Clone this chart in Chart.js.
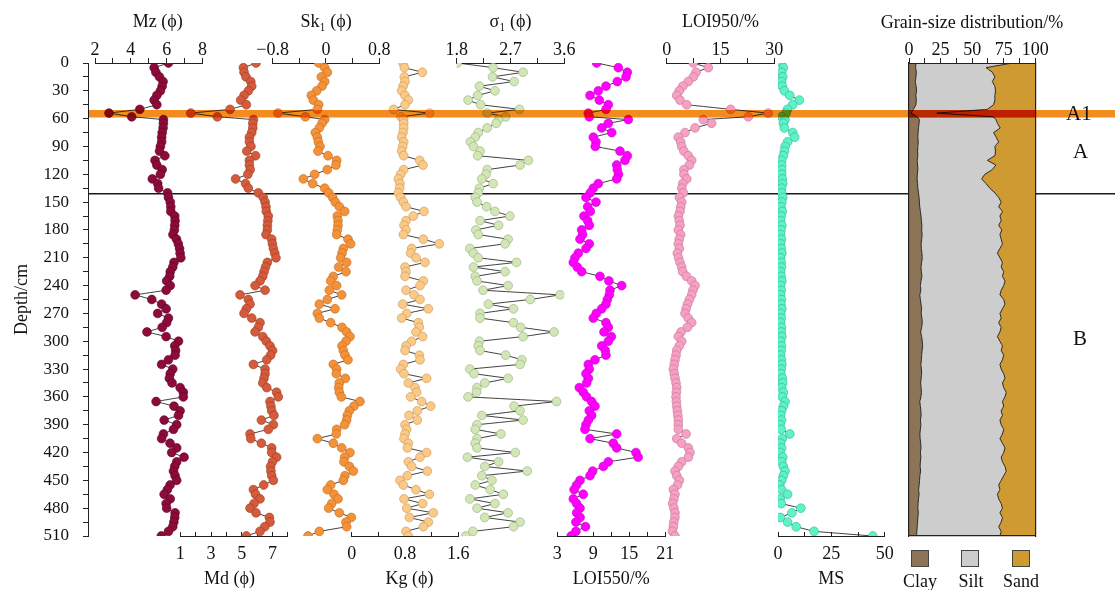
<!DOCTYPE html>
<html><head><meta charset="utf-8">
<script src="https://cdn.jsdelivr.net/npm/chart.js@4.4.1/dist/chart.umd.min.js"></script>
<style>
html,body{margin:0;padding:0;background:#fff;}
#wrap{position:relative;width:1115px;height:590px;overflow:hidden;font-family:'Liberation Serif','DejaVu Serif',serif;color:#111;}
#wrap canvas{position:absolute;left:0;top:0;}
.lab{position:absolute;font-size:21px;line-height:21px;transform:translateY(-50%);}
.ttl{position:absolute;font-size:18px;line-height:21px;white-space:nowrap;transform:translate(-50%,-50%);}
.lg{position:absolute;top:550px;width:18px;height:17px;border:1px solid #444;box-sizing:border-box;}
.lgt{position:absolute;top:572px;font-size:18px;line-height:18px;transform:translateX(-50%);}
</style></head><body>
<div id="wrap">
<div class="lab" style="left:1066px;top:113px;z-index:5">A1</div>
<div class="lab" style="left:1073px;top:151px;z-index:5">A</div>
<div class="lab" style="left:1073px;top:338px;z-index:5">B</div>
<div class="ttl" style="left:972px;top:22px;z-index:5">Grain-size distribution/%</div>
<div class="lg" style="left:911px;background:#8b7556;z-index:5"></div>
<div class="lg" style="left:961px;background:#cdcdcd;z-index:5"></div>
<div class="lg" style="left:1012px;background:#d09a33;z-index:5"></div>
<div class="lgt" style="left:920px;z-index:5">Clay</div>
<div class="lgt" style="left:971px;z-index:5">Silt</div>
<div class="lgt" style="left:1021px;z-index:5">Sand</div>
</div>
<script>
// ---- sample depths (cm) ----
const depths = [0,5,10,15,20,25,30,35,40,45,
 50,54,58,61,65,70,75,80,85,90,
 95,100,105,110,115,120,125,130,135,140,
 145,150,155,160,165,170,175,180,185,190,
 195,200,205,210,215,220,225,230,235,240,
 245,250,255,260,265,270,275,280,285,290,
 295,300,305,310,315,320,325,330,335,340,
 345,350,355,360,365,370,375,380,385,390,
 395,400,405,410,415,420,425,430,435,440,
 445,450,455,460,465,470,475,480,485,490,
 495,500,505,510];
const mz = [6.1,5.3,5.4,5.6,5.8,5.75,5.65,5.45,5.3,5.45,
 4.5,2.78,4.05,5.82,5.82,5.8,5.75,5.72,5.72,5.65,
 5.6,5.9,5.35,5.45,5.75,5.65,5.2,5.5,5.55,6.05,
 6.1,6.2,6.23,6.23,6.45,6.47,6.45,6.43,6.35,6.55,
 6.65,6.72,6.75,6.79,6.41,6.34,6.2,6.17,6.0,6.2,
 5.97,4.24,5.17,5.72,5.97,5.5,6.1,6.0,5.75,4.9,
 5.97,6.66,6.45,6.5,6.47,6.1,5.72,6.34,6.2,6.15,
 6.3,6.75,6.93,6.93,5.41,6.41,6.75,6.66,5.86,6.56,
 6.38,5.82,5.72,6.19,6.56,6.28,6.97,6.56,6.45,6.38,
 6.47,6.56,6.19,6.04,5.86,6.2,5.97,6.0,6.47,6.45,
 6.4,6.34,6.1,5.7];
const md = [5.93,5.11,5.15,5.28,5.59,5.65,5.43,5.15,4.93,5.3,
 4.24,1.68,3.41,5.76,5.72,5.72,5.65,5.5,5.5,5.6,
 5.33,5.9,5.5,5.5,5.55,5.4,4.6,5.25,5.43,6.08,
 6.4,6.52,6.58,6.6,6.73,6.7,6.67,6.67,6.58,6.95,
 7.0,7.06,7.15,7.23,6.67,6.55,6.45,6.37,6.19,5.87,
 6.52,4.89,5.43,5.54,5.3,5.15,5.65,6.19,6.08,5.87,
 6.37,6.6,6.84,7.01,6.88,6.63,5.76,6.52,6.52,6.45,
 6.37,6.63,7.27,7.38,6.84,6.9,6.95,7.1,6.28,7.06,
 6.73,5.54,5.59,6.28,6.95,6.95,7.27,7.0,6.88,6.9,
 6.95,7.06,6.43,5.76,5.9,6.19,5.8,5.54,5.93,6.8,
 6.84,6.5,6.19,5.3];
const sk = [-0.11,-0.02,0.02,-0.07,-0.02,-0.06,-0.14,-0.22,-0.19,-0.11,
 -0.13,-0.72,-0.31,-0.02,-0.06,-0.1,-0.16,-0.13,-0.115,-0.09,
 -0.12,0.03,0.16,0.15,0.02,-0.17,-0.34,-0.2,-0.02,0.04,
 0.1,0.14,0.2,0.28,0.17,0.18,0.18,0.17,0.16,0.33,
 0.37,0.26,0.24,0.22,0.31,0.19,0.3,0.11,0.07,0.16,
 0.05,0.235,0.02,-0.1,0.135,-0.13,-0.1,0.07,0.24,0.31,
 0.36,0.3,0.24,0.26,0.285,0.33,0.11,0.16,0.155,0.29,
 0.2,0.19,0.2,0.23,0.51,0.42,0.35,0.32,0.31,0.28,
 0.16,0.155,-0.13,0.11,0.235,0.36,0.28,0.27,0.35,0.41,
 0.285,0.26,0.07,0.02,0.12,0.18,0.085,0.04,0.2,0.38,
 0.3,0.31,-0.1,-0.27];
const kg = [0.77,0.79,1.06,0.79,0.8,0.77,0.75,0.8,0.85,0.8,
 0.63,1.17,0.74,0.78,0.78,0.78,0.77,0.75,0.78,0.765,
 0.75,0.78,1.02,1.07,0.78,0.735,0.7,0.725,0.72,0.7,
 0.735,0.775,0.815,1.085,0.925,0.815,0.785,0.815,0.775,1.075,
 1.315,0.9,0.885,0.965,1.1,0.8,0.815,0.8,1.075,1.025,
 0.815,0.935,1.025,0.765,1.15,0.825,0.75,1.0,1.015,0.965,
 1.066,0.9,0.815,0.8,1.015,1.025,0.775,0.735,0.785,1.125,
 0.85,0.95,0.975,0.885,1.05,1.185,0.985,0.86,0.985,0.8,
 0.825,0.8,0.785,0.85,0.835,1.125,1.025,0.85,0.9,1.135,
 0.835,0.725,0.775,0.965,1.165,0.785,1.066,0.825,1.225,0.865,
 1.15,1.075,0.815,0.85];
const sigma = [1.81,2.41,2.91,2.4,2.76,2.18,2.44,2.15,1.99,2.2,
 2.85,2.31,2.62,2.5,2.46,2.31,2.16,2.11,2.03,2.08,
 2.19,2.15,3.0,2.86,2.31,2.29,2.22,2.41,2.18,2.16,
 2.11,2.14,2.3,2.44,2.69,2.19,2.5,2.12,2.16,2.66,
 2.61,2.02,2.08,2.16,2.8,2.08,2.61,2.11,2.14,2.66,
 2.24,3.53,3.03,2.33,2.75,2.19,2.19,2.75,2.87,3.43,
 2.91,2.18,2.16,2.19,2.62,2.89,2.86,2.02,2.09,2.66,
 2.27,2.14,2.13,1.99,3.47,2.76,2.86,2.22,2.91,2.14,
 2.11,2.54,2.14,2.11,2.14,2.78,1.98,2.5,2.27,2.98,
 2.22,2.39,2.11,2.36,2.58,2.02,2.44,2.14,2.66,2.27,
 2.86,2.75,2.07,1.95];
const loi550 = [9.56,13.17,14.67,14.45,13.0,11.11,9.83,8.45,10.0,11.5,
 11.11,8.17,8.33,14.83,11.5,10.4,12.07,9.0,9.45,9.33,
 13.45,14.67,14.28,12.9,13.0,13.2,12.9,9.83,9.0,8.5,
 7.78,9.45,8.06,8.5,7.44,8.06,8.33,7.06,7.22,6.78,
 8.33,7.78,6.5,5.94,5.67,6.33,7.06,10.11,11.6,13.73,
 11.78,11.67,11.33,11.11,10.4,9.5,9.0,11.11,11.5,10.78,
 12.0,11.5,10.4,11.0,11.11,9.28,8.17,8.33,7.78,8.17,
 7.89,6.67,7.33,7.89,8.73,9.28,8.33,8.73,8.17,7.78,
 7.61,12.9,8.45,12.33,12.9,16.11,16.48,11.5,10.67,8.9,
 8.45,6.78,6.22,5.8,7.33,5.67,6.22,6.78,6.22,6.8,
 6.1,7.7,6.1,5.3];
const loi950 = [7.42,11.6,8.17,7.42,6.0,4.5,3.5,2.79,3.71,5.58,
 17.84,28.3,22.75,10.2,12.5,7.9,5.1,3.24,3.9,4.18,
 4.8,6.03,6.97,6.32,4.8,4.8,5.58,4.46,4.18,4.65,
 3.53,4.18,3.9,3.71,3.24,3.5,3.71,3.24,3.9,3.5,
 3.24,3.53,2.97,3.3,3.71,4.18,4.46,5.5,6.97,7.9,
 7.3,6.97,6.32,5.8,5.4,5.1,6.0,6.97,5.76,4.0,
 3.24,4.18,3.5,2.79,2.6,2.32,2.1,1.86,2.1,2.32,
 2.6,2.79,2.7,2.6,2.7,2.79,2.97,3.1,3.24,3.24,
 3.24,5.4,2.79,4.18,6.03,6.5,6.03,4.18,3.24,2.32,
 2.79,3.53,3.0,1.86,2.3,2.0,1.67,2.0,2.32,2.28,
 1.98,1.85,1.6,2.3];
const ms = [1.7,2.5,1.7,2.2,1.7,2.0,3.0,5.5,10.0,6.9,
 4.4,3.75,1.7,3.3,2.5,3.0,6.9,7.8,4.5,3.3,
 3.0,2.5,1.7,1.7,1.7,1.7,2.0,2.2,1.7,1.7,
 2.2,1.8,1.4,2.0,1.5,1.2,1.8,1.4,1.2,1.6,
 1.2,1.5,1.8,1.2,1.5,1.6,1.2,1.5,1.8,1.2,
 1.5,1.2,1.6,1.4,1.8,1.3,1.5,1.2,1.6,1.5,
 1.8,1.3,1.6,1.5,1.2,1.6,1.8,1.5,1.3,2.0,
 2.2,1.7,2.5,2.0,3.3,2.5,1.7,1.2,1.7,1.0,
 1.5,5.5,2.0,1.2,1.7,1.0,2.2,1.7,2.5,3.3,
 2.5,1.7,0.8,1.7,4.5,1.0,1.5,10.7,6.5,1.1,
 4.5,8.5,16.9,44.4];
const clay = [5.5,5.2,5.8,5.5,5.0,5.6,6.0,5.4,5.8,5.5,
 3.5,1.7,6.5,8.2,8.0,7.5,7.2,7.0,7.3,7.0,
 6.8,7.0,6.5,6.8,7.0,6.6,6.4,6.8,7.0,7.5,
 8.0,8.2,8.5,9.0,9.5,9.8,10.2,10.0,10.4,10.0,
 9.6,9.8,10.2,10.5,10.0,9.5,9.8,10.2,9.5,9.0,
 9.4,8.5,9.0,9.5,10.0,9.6,10.2,10.5,10.0,9.2,
 10.0,10.5,10.8,10.4,10.0,9.8,9.4,9.8,10.0,9.6,
 9.2,9.6,9.8,9.5,8.5,9.0,9.4,9.6,9.0,9.4,
 9.0,8.6,8.8,9.2,9.5,9.0,9.4,9.0,8.8,9.2,
 8.6,8.4,8.0,7.6,8.0,7.5,7.2,7.0,7.4,7.0,
 6.8,6.5,6.2,6.0];
const silt = [76.5,55.8,60.2,62.5,61.0,62.4,62.5,62.6,62.2,61.5,
 58.5,20.3,60.2,60.6,62.0,64.7,59.8,62.0,63.7,61.0,
 61.7,61.0,55.5,62.0,59.0,53.4,51.1,54.2,57.0,60.5,
 63.0,64.8,62.5,65.0,62.5,63.2,60.8,63.5,61.6,63.0,
 64.4,62.2,59.8,61.5,64.0,63.5,65.2,63.8,66.5,66.0,
 63.6,63.5,66.0,66.5,64.0,62.4,62.8,60.5,63.0,62.8,
 60.0,61.5,63.2,62.6,65.0,64.2,62.6,63.2,65.0,66.4,
 64.8,65.4,67.2,66.5,65.5,66.0,63.6,64.4,63.0,63.6,
 66.0,65.4,63.2,64.8,66.5,66.0,63.6,65.0,67.2,67.8,
 66.4,64.6,63.0,64.4,62.0,63.5,65.8,67.0,64.6,67.0,
 66.2,64.5,66.8,66.0];
// ---- tick labels ----
const depthTicks = [0,30,60,90,120,150,180,210,240,270,300,330,360,390,420,450,480,510];
const mzTicks = [2,4,6,8];
const mdTicks = [1,3,5,7];
const skTicks = [-0.8,0,0.8];
const kgTicks = [0,0.8,1.6];
const sigmaTicks = [1.8,2.7,3.6];
const loi550Ticks = [3,9,15,21];
const loi950Ticks = [0,15,30];
const msTicks = [0,25,50];
const grainTicks = [0,25,50,75,100];
const boundaryDepth = 141;   // A / B boundary
const eventDepth = 54.6;     // A1 layer

Chart.defaults.font.family = "'Liberation Serif','DejaVu Serif',serif";
Chart.defaults.font.size = 18;
Chart.defaults.color = '#111';
Chart.defaults.animation = false;

const W = 1115, H = 590, TOP = 63, BOT = 536;
const GL = 909, GR = 1035.3;
const wrap = document.getElementById('wrap');
function mkCanvas(blend) {
  const c = document.createElement('canvas');
  c.width = W; c.height = H;
  if (blend) c.style.mixBlendMode = 'multiply';
  wrap.appendChild(c);
  return c.getContext('2d');
}
function fmt(v) { const r = Math.round(v * 1000) / 1000; return (r < 0 ? '\u2212' : '') + String(Math.abs(r)); }
function labelCb(list) { return v => list.some(a => Math.abs(a - v) < 1e-6) ? fmt(v) : ''; }
const quiet = {legend: {display: false}, tooltip: {enabled: false}};

function seriesChart(vals, o) {
  const top = o.pos === 'top';
  const hAx = top ? 59 : 54;
  const pad = top ? {left: o.L, right: W - o.R, top: TOP - hAx, bottom: H - BOT}
                  : {left: o.L, right: W - o.R, top: TOP, bottom: H - BOT - hAx};
  new Chart(mkCanvas(false), {
    type: 'line',
    data: {datasets: [{
      data: depths.map((d, i) => ({x: vals[i], y: d})),
      borderColor: '#111', borderWidth: 0.8, borderDash: [10, 0],
      pointRadius: 4.4, pointBackgroundColor: o.color, pointBorderColor: o.edge, pointBorderWidth: 0.6,
      tension: 0, fill: false
    }]},
    options: {
      responsive: false, devicePixelRatio: 1, animation: false,
      layout: {padding: pad, autoPadding: false},
      plugins: quiet,
      scales: {
        x: {type: 'linear', position: o.pos, min: o.min, max: o.max,
          afterFit: s => { s.height = hAx; },
          ticks: {stepSize: o.step, autoSkip: false, maxRotation: 0, callback: labelCb(o.ticks), padding: top ? -3 : 11, color: '#111'},
          grid: {display: true, drawOnChartArea: false, drawTicks: true, tickLength: top ? 5 : -4, color: '#222', lineWidth: 1},
          border: {display: true, color: '#222', width: 1},
          title: {display: true, text: o.title, padding: top ? {top: 7, bottom: 0} : {top: 0, bottom: 0}, color: '#111'}
        },
        y: {type: 'linear', display: false, min: 0, max: 510, reverse: true}
      }
    }
  });
}

// base: depth axis + boundary line
new Chart(mkCanvas(false), {
  type: 'line',
  data: {datasets: [{data: [{x: 0, y: boundaryDepth}, {x: 1, y: boundaryDepth}], borderColor: '#1a1a1a', borderWidth: 1.4, pointRadius: 0}]},
  options: {
    responsive: false, devicePixelRatio: 1, animation: false,
    layout: {padding: {left: 4, right: 0, top: TOP, bottom: H - BOT}, autoPadding: false},
    plugins: quiet,
    scales: {
      x: {type: 'linear', display: false, min: 0, max: 1},
      y: {type: 'linear', position: 'left', min: 0, max: 510, reverse: true,
        afterFit: s => { s.width = 84; },
        ticks: {stepSize: 15, autoSkip: false, callback: labelCb(depthTicks), padding: 14, color: '#111', font: {size: 17}},
        grid: {display: true, drawOnChartArea: false, drawTicks: true, tickLength: 5, color: '#222'},
        border: {display: true, color: '#222', width: 1},
        title: {display: true, text: 'Depth/cm', padding: {top: 7, bottom: 0}, color: '#111'}
      }
    }
  }
});

seriesChart(mz,     {pos: 'top',    L: 95,    R: 202.5, min: 2,    max: 8,   step: 1,    ticks: mzTicks,     title: '\u2003Mz (\u03D5)',  color: '#8d0b3b', edge: '#5c0422'});
seriesChart(md,     {pos: 'bottom', L: 180.3, R: 287.8, min: 1,    max: 8,   step: 1,    ticks: mdTicks,     title: 'Md (\u03D5)\u2002',  color: '#d45b3b', edge: '#9c3b22'});
seriesChart(sk,     {pos: 'top',    L: 272.7, R: 379.3, min: -0.8, max: 0.8, step: 0.4,  ticks: skTicks,     title: 'Sk\u2081 (\u03D5)',  color: '#f39238', edge: '#c26a1c'});
seriesChart(kg,     {pos: 'bottom', L: 351.7, R: 458.3, min: 0,    max: 1.6, step: 0.4,  ticks: kgTicks,     title: '\u2002Kg (\u03D5)',  color: '#fbca86', edge: '#c8955a'});
seriesChart(sigma,  {pos: 'top',    L: 456.7, R: 564.3, min: 1.8,  max: 3.6, step: 0.45, ticks: sigmaTicks,  title: '\u03C3\u2081 (\u03D5)', color: '#d3e6b6', edge: '#95ad7c'});
seriesChart(loi550, {pos: 'bottom', L: 557.3, R: 665.3, min: 3,    max: 21,  step: 3,    ticks: loi550Ticks, title: 'LOI550/%',           color: '#ff00ff', edge: '#c200c2'});
seriesChart(loi950, {pos: 'top',    L: 666.7, R: 774.3, min: 0,    max: 30,  step: 7.5,  ticks: loi950Ticks, title: 'LOI950/%',           color: '#f6a0c4', edge: '#c27396'});
seriesChart(ms,     {pos: 'bottom', L: 778,   R: 884.7, min: 0,    max: 50,  step: 12.5, ticks: msTicks,     title: 'MS',                 color: '#5ef2c9', edge: '#2fb690'});

// grain-size stacked distribution
const clayTop = depths.map((d, i) => ({x: clay[i], y: d}));
const siltTop = depths.map((d, i) => ({x: clay[i] + silt[i], y: d}));
const sandTop = depths.map(d => ({x: 100, y: d}));
new Chart(mkCanvas(false), {
  type: 'line',
  data: {datasets: [
    {data: clayTop, borderColor: '#2a2a2a', borderWidth: 1, borderDash: [10, 0], backgroundColor: '#8b7556', fill: {value: 0}, pointRadius: 0, tension: 0},
    {data: siltTop, borderColor: '#2a2a2a', borderWidth: 1, borderDash: [10, 0], backgroundColor: '#cdcdcd', fill: {value: 0}, pointRadius: 0, tension: 0},
    {data: sandTop, borderColor: 'rgba(0,0,0,0)', borderWidth: 0, borderDash: [10, 0], backgroundColor: '#d09a33', fill: {value: 0}, pointRadius: 0, tension: 0}
  ]},
  options: {
    indexAxis: 'y',
    responsive: false, devicePixelRatio: 1, animation: false,
    layout: {padding: {left: GL, right: W - GR, top: TOP - 59, bottom: H - BOT}, autoPadding: false},
    plugins: quiet,
    scales: {
      x: {type: 'linear', position: 'top', min: 0, max: 100,
        afterFit: s => { s.height = 59; },
        ticks: {stepSize: 12.5, autoSkip: false, maxRotation: 0, callback: labelCb(grainTicks), padding: -3, color: '#111'},
        grid: {display: true, drawOnChartArea: false, drawTicks: true, tickLength: 5, color: '#222'},
        border: {display: true, color: '#222', width: 1, z: 1},
        title: {display: false}
      },
      xb: {type: 'linear', position: 'bottom', min: 0, max: 100, afterFit: s => { s.height = 0; },
        ticks: {display: false}, grid: {display: false}, border: {display: true, color: '#222', width: 1.2, z: 1}},
      y: {type: 'linear', position: 'left', min: 0, max: 510, reverse: true, afterFit: s => { s.width = 0; },
        ticks: {display: false}, grid: {display: false}, border: {display: true, color: '#222', width: 1.2, z: 1}},
      yr: {type: 'linear', position: 'right', min: 0, max: 510, reverse: true, afterFit: s => { s.width = 0; },
        ticks: {display: false}, grid: {display: false}, border: {display: true, color: '#222', width: 1.2, z: 1}}
    }
  }
});

// A1 event band (multiply over everything)
new Chart(mkCanvas(true), {
  type: 'line',
  data: {datasets: [{data: [{x: 0, y: eventDepth}, {x: 1, y: eventDepth}], borderColor: 'rgb(242,140,30)', borderWidth: 7.5, borderCapStyle: 'butt', pointRadius: 0}]},
  options: {
    responsive: false, devicePixelRatio: 1, animation: false,
    layout: {padding: {left: 88, right: 0, top: TOP, bottom: H - BOT}, autoPadding: false},
    plugins: quiet,
    scales: {
      x: {type: 'linear', display: false, min: 0, max: 1},
      y: {type: 'linear', display: false, min: 0, max: 510, reverse: true}
    }
  }
});
// deeper red tone of the band inside the grain-size column
new Chart(mkCanvas(true), {
  type: 'line',
  data: {datasets: [{data: [{x: 0, y: eventDepth}, {x: 100, y: eventDepth}], borderColor: 'rgb(245,95,10)', borderWidth: 7.5, borderCapStyle: 'butt', pointRadius: 0}]},
  options: {
    responsive: false, devicePixelRatio: 1, animation: false,
    layout: {padding: {left: GL, right: W - GR, top: TOP, bottom: H - BOT}, autoPadding: false},
    plugins: quiet,
    scales: {
      x: {type: 'linear', display: false, min: 0, max: 100},
      y: {type: 'linear', display: false, min: 0, max: 510, reverse: true}
    }
  }
});
</script>
</body></html>
